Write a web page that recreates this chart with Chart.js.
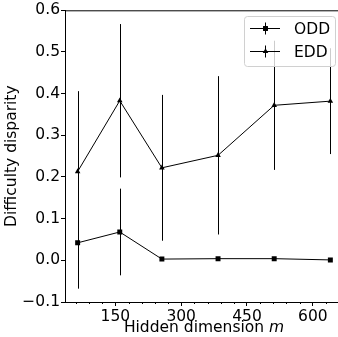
<!DOCTYPE html>
<html>
<head>
<meta charset="utf-8">
<script src="https://cdn.jsdelivr.net/npm/chart.js@4.4.1/dist/chart.umd.min.js"></script>
<style>
  html, body { margin: 0; padding: 0; background: #fff; overflow: hidden; }
  #wrap { width: 350px; height: 337px; }
</style>
</head>
<body>
<div id="wrap"><canvas id="disparity" width="350" height="337"></canvas></div>
<script>
// hidden sizes m and the measured disparity (mean, std)
var dims = [64, 160, 256, 384, 512, 640];
var oddMean = [0.042, 0.068, 0.003, 0.004, 0.004, 0.001];
var oddErr = [0.110, 0.104, 0.002, 0.002, 0.002, 0.002];
var eddMean = [0.213, 0.383, 0.222, 0.252, 0.372, 0.382];
var eddErr = [0.193, 0.184, 0.175, 0.190, 0.155, 0.127];
var xTicks = [150, 300, 450, 600];
var seriesNames = ['ODD', 'EDD'];
var markers = ['rect', 'triangle'];

var FONT = '"DejaVu Sans", sans-serif';
var FS = 15.5;

function toPoints(means) {
    return dims.map((d, i) => ({ x: d, y: means[i] }));
}

// vertical error bars, drawn under the lines
const errorBars = {
    id: 'errorBars',
    beforeDatasetsDraw(chart) {
        const { ctx, scales: { x, y } } = chart;
        ctx.save();
        ctx.strokeStyle = '#000';
        ctx.lineWidth = 1;
        [[oddMean, oddErr], [eddMean, eddErr]].forEach(([m, e]) => {
            dims.forEach((d, i) => {
                const px = Math.round(x.getPixelForValue(d)) + 0.5;
                ctx.beginPath();
                ctx.moveTo(px, y.getPixelForValue(m[i] - e[i]));
                ctx.lineTo(px, y.getPixelForValue(m[i] + e[i]));
                ctx.stroke();
            });
        });
        ctx.restore();
    }
};

// top spine, minor ticks, axis titles and the legend box
const decorations = {
    id: 'decorations',
    afterDraw(chart) {
        const { ctx, chartArea: a, scales: { x } } = chart;
        ctx.save();
        ctx.strokeStyle = '#000';
        ctx.lineWidth = 1;
        ctx.beginPath();
        ctx.moveTo(a.left, a.top + 0.5);
        ctx.lineTo(a.right, a.top + 0.5);
        ctx.stroke();

        // minor ticks every 30 on x
        for (let v = 60; v <= 660; v += 30) {
            if (v % 150 === 0) continue;
            const px = Math.round(x.getPixelForValue(v)) + 0.5;
            ctx.beginPath();
            ctx.moveTo(px, a.bottom);
            ctx.lineTo(px, a.bottom + 2);
            ctx.stroke();
        }

        // axis titles
        ctx.fillStyle = '#000';
        ctx.textBaseline = 'middle';
        const cx = (a.left + a.right) / 2;
        ctx.font = FS + 'px ' + FONT;
        const part1 = 'Hidden dimension ';
        const w1 = ctx.measureText(part1).width;
        ctx.font = 'italic ' + FS + 'px ' + FONT;
        const w2 = ctx.measureText('m').width;
        let sx = cx - (w1 + w2) / 2;
        ctx.textAlign = 'left';
        ctx.font = FS + 'px ' + FONT;
        ctx.fillText(part1, sx, 327.5);
        ctx.font = 'italic ' + FS + 'px ' + FONT;
        ctx.fillText('m', sx + w1, 327.5);

        ctx.save();
        ctx.translate(12, (a.top + a.bottom) / 2);
        ctx.rotate(-Math.PI / 2);
        ctx.textAlign = 'center';
        ctx.font = FS + 'px ' + FONT;
        ctx.fillText('Difficulty disparity', 0, 0);
        ctx.restore();

        // legend
        const bx = 244, by = 16, bw = 91, bh = 50;
        ctx.beginPath();
        ctx.roundRect(bx + 0.5, by + 0.5, bw, bh, 3);
        ctx.fillStyle = 'rgba(255,255,255,0.8)';
        ctx.fill();
        ctx.strokeStyle = '#d0d0d0';
        ctx.stroke();

        seriesNames.forEach((name, i) => {
            const ry = 28.5 + i * 23;
            ctx.strokeStyle = '#000';
            ctx.fillStyle = '#000';
            ctx.beginPath();
            ctx.moveTo(250, ry);
            ctx.lineTo(280, ry);
            ctx.moveTo(265.5, ry - 6);
            ctx.lineTo(265.5, ry + 6);
            ctx.stroke();
            Chart.helpers.drawPoint(ctx, { pointStyle: markers[i], radius: i === 0 ? 3.5 : 3.2, borderWidth: 0 }, 265.5, ry);
            ctx.font = FS + 'px ' + FONT;
            ctx.textAlign = 'left';
            ctx.fillStyle = '#000';
            ctx.fillText(name, 294, ry + 1);
        });
        ctx.restore();
    }
};

const ctx = document.getElementById('disparity').getContext('2d');

new Chart(ctx, {
    type: 'line',
    data: {
        datasets: [{
            label: seriesNames[0],
            data: toPoints(oddMean),
            borderColor: '#000',
            backgroundColor: '#000',
            borderWidth: 1,
            pointStyle: markers[0],
            pointRadius: 3.5,
            pointBorderWidth: 0,
            tension: 0
        }, {
            label: seriesNames[1],
            data: toPoints(eddMean),
            borderColor: '#000',
            backgroundColor: '#000',
            borderWidth: 1,
            pointStyle: markers[1],
            pointRadius: 3.2,
            pointBorderWidth: 0,
            tension: 0
        }]
    },
    options: {
        responsive: false,
        animation: false,
        devicePixelRatio: 1,
        layout: { padding: { left: 0, right: 7, top: 8, bottom: 0 } },
        plugins: { legend: { display: false }, tooltip: { enabled: false } },
        scales: {
            x: {
                type: 'linear',
                min: 35.2,
                max: 668.8,
                afterBuildTicks: (scale) => { scale.ticks = xTicks.map(v => ({ value: v })); },
                afterFit: (scale) => { scale.height = 35; },
                grid: { drawOnChartArea: false, tickLength: 4, tickColor: '#000' },
                border: { color: '#000', width: 1 },
                ticks: { color: '#000', font: { family: FONT, size: FS }, padding: 2, maxRotation: 0 }
            },
            y: {
                min: -0.1,
                max: 0.6,
                afterFit: (scale) => { scale.width = 65; },
                grid: { drawOnChartArea: false, tickLength: 4, tickColor: '#000' },
                border: { color: '#000', width: 1 },
                ticks: {
                    stepSize: 0.1,
                    color: '#000',
                    font: { family: FONT, size: FS },
                    padding: 1,
                    callback: (v) => (v < -1e-9 ? '\u2212' + Math.abs(v).toFixed(1) : Math.abs(v).toFixed(1))
                }
            }
        }
    },
    plugins: [errorBars, decorations]
});
</script>
</body>
</html>
